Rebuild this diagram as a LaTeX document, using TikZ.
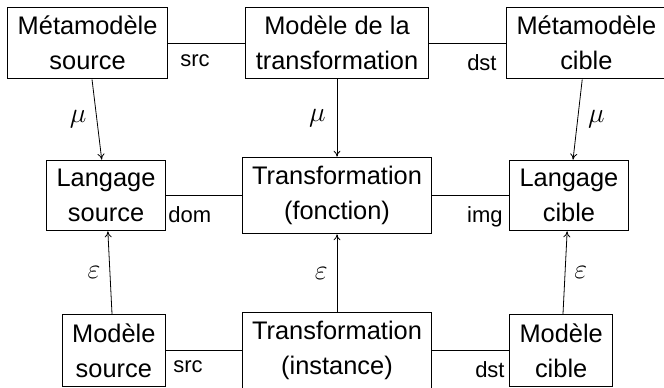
\documentclass[tikz,border=0pt]{standalone}
\usepackage{fontspec}
\setmainfont{Liberation Sans}
\usetikzlibrary{arrows.meta}
\DeclareFontShape{OML}{cmm}{m}{it}{<->cmmi12}{}

\tikzset{
	bloc/.style = {draw, line width = 1pt, align = center, inner xsep = 10pt, inner ysep = 9pt, font = \fontsize{25.4}{35}\selectfont},
	lien/.style = {line width = 0.8pt},
	fleche/.style = {line width = 0.8pt, -{To[length = 6pt, width = 7pt]}},
	role/.style = {inner sep = 0pt, font = \fontsize{22}{26}\selectfont},
	morph/.style = {inner sep = 0pt, font = \fontsize{28}{32}\selectfont}
}

\begin{document}
\begin{tikzpicture}[x = 1pt, y = 1pt]
	\useasboundingbox (0, 0) rectangle (664, -388);

	\node [bloc, anchor = east] (msrc) at (168, -43) {Métamodèle\\source};
	\node [bloc] (mtr) at (337, -43) {Modèle de la\\transformation};
	\node [bloc, anchor = west] (mcib) at (506, -43) {Métamodèle\\cible};

	\node [bloc, anchor = east] (lsrc) at (166, -195.5) {Langage\\source};
	\node [bloc] (tfct) at (337, -195.5) {Transformation\\(fonction)};
	\node [bloc, anchor = west] (lcib) at (509, -195.5) {Langage\\cible};

	\node [bloc, anchor = east] (modsrc) at (166, -350.5) {Modèle\\source};
	\node [bloc] (tinst) at (337, -350.5) {Transformation\\(instance)};
	\node [bloc, anchor = west] (modcib) at (509, -350.5) {Modèle\\cible};

	\draw [lien] (msrc) -- node [role, pos = 0, anchor = base west, xshift = 12pt, yshift = -23pt] {src} (mtr);
	\draw [lien] (mtr) -- node [role, pos = 1, anchor = base east, xshift = -9pt, yshift = -27pt] {dst} (mcib);
	\draw [lien] (lsrc) -- node [role, pos = 0, anchor = base west, xshift = 2pt, yshift = -27pt] {dom} (tfct);
	\draw [lien] (tfct) -- node [role, pos = 1, anchor = base east, xshift = -6pt, yshift = -27pt] {img} (lcib);
	\draw [lien] (modsrc) -- node [role, pos = 0, anchor = base west, xshift = 7pt, yshift = -22pt] {src} (tinst);
	\draw [lien] (tinst) -- node [role, pos = 1, anchor = base east, xshift = -4pt, yshift = -27pt] {dst} (modcib);

	\draw [fleche] (msrc) -- node [morph, midway, left = 10pt] {$\mu$} (lsrc);
	\draw [fleche] (mtr) -- node [morph, midway, left = 11pt] {$\mu$} (tfct);
	\draw [fleche] (mcib) -- node [morph, midway, right = 10pt] {$\mu$} (lcib);

	\draw [fleche] (modsrc) -- node [morph, midway, left = 9pt] {$\varepsilon$} (lsrc);
	\draw [fleche] (tinst) -- node [morph, midway, left = 9pt] {$\varepsilon$} (tfct);
	\draw [fleche] (modcib) -- node [morph, midway, right = 9pt] {$\varepsilon$} (lcib);
\end{tikzpicture}
\end{document}
